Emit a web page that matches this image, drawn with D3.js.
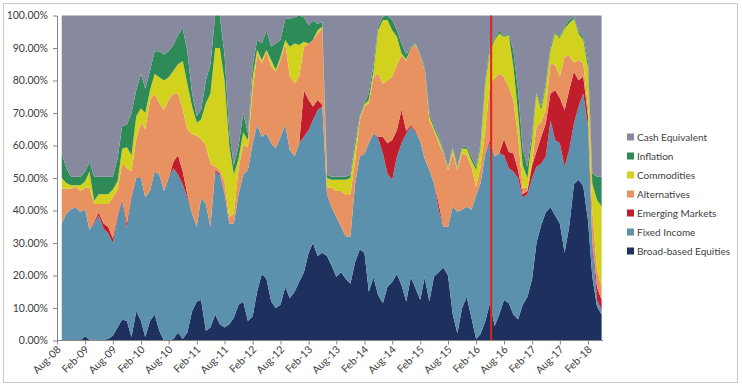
<!DOCTYPE html>
<html>
<head>
<meta charset="utf-8">
<script src="https://cdn.jsdelivr.net/npm/d3@7"></script>
<style>
  body { margin: 0; background: #fff; }
  svg { display: block; font-family: Lato, "Liberation Sans", sans-serif; }
</style>
</head>
<body>
<svg id="chart"></svg>
<script>
// Monthly allocation weights (%), Sep-08 .. May-18
var firstMonth = new Date(2008, 8, 1);

var equities = [0,0,0,0,0,1.3,0.2,0.3,0,0.2, 0.5,1.5,4,6.5,6,1,9,6,1,6,
  8,3,0,0,0.5,2.5,0.5,2.5,9,12, 12.5,3,4,8,5,4,5,7,11,12,
  6,7.5,15,20.5,19,12,10,11,16.5,13, 15,18,21,27,30,26,27,26,23,19.6,
  21,19,17.5,24,28,27,15,19.5,14,11.5, 16.5,18,20.5,17,12,19.5,16,12.5,19.5,12,
  19.6,21,22.5,20,8,2.2,10,13.5,7,0.5, 2,6,11.5,4.5,8,12.5,11.5,8,6.5,11,
  13.5,19,30,35.5,39.5,41,38.5,36,27,35, 48,49.5,47.5,37,19.6,10.4,8];

var fixedIncome = [36,39,40.5,41,39.5,39.2,33.8,35.7,38.5,34.3, 32.5,28.5,34,36.5,28.5,43,41,44,43,40,
  44,48,46,50,52.5,48.5,47.5,41.5,30,23, 31.5,39,31,44,46,41,31,29,34,39,
  46.5,53.2,51.3,42.2,44.7,48.7,49.1,51.7,49.8,45.6, 41.6,42.7,41.7,37.8,37.8,44.9,45,19,18,18.4,
  14,13,14.5,24,28.6,30.5,45.7,44.3,48.2,46.1, 34.9,31.4,36.1,43.7,51.7,46.3,48,48.7,36.5,40.5,
  28.8,19.2,12.5,15,33.2,37.4,30.2,27.7,33.2,44.3, 46.4,51.6,49.2,52.1,49.6,44.5,41.5,44,43.4,33,
  31.5,31,23.5,19,17.1,26.8,23.2,24.7,26.5,23.6, 18.8,22.5,28.5,29,10.3,2.1,1.4];

var emerging = [0,0,0,0,0,0,0,0.5,1,1.5, 2,1.5,0.5,0.5,1.5,0.5,0,0,0,0,
  0,0,0,0,2,6,4,1,0,0, 0,0,0,0.5,0.5,0.5,0,0,0,0,
  0,0,0,0,0,0,0,0,0,0, 0,0,14.3,9.2,4.2,3.1,0.5,0,0,0,
  0,0,0,0,0,0,0,0,0.5,5.1, 9.3,12.3,8.2,10.3,0.8,0.5,0.5,0,0,0,
  0,2,0,0,0,0,0,0,0,0, 0,0,1,0,0,5,5,5.6,2.6,1,
  1,4,4.6,8.2,10.2,8.2,15.3,13.9,17.4,18.4, 15.9,8.1,5.2,3,1,4,3.1];

var alternatives = [10.8,7.8,6.3,6.3,6.5,6.5,13,5.5,2.5,6, 7,12.5,8,11,17,7.5,12,17,21,28,
  24,22,25,24,21,19,19,20,24.5,28, 18,18,19.5,1,1,3.5,2,3,8,9,
  7.1,16.3,21.7,22.6,25.2,23.6,23.6,23.6,25.1,22.6, 22.5,20.5,13.4,17.4,20.5,20.5,23.5,2,6,8,
  11,13,13,7,11.2,14.5,12.3,17.2,19.5,16.3, 19.3,19.5,20,16.9,21.5,23.7,26.5,26.3,27.2,15.3,
  16.3,18.5,22.6,17.5,16.4,12.9,17.4,15.9,13.3,2.5, 5.1,7.2,17.4,24,24.6,19,20,16.4,10.2,2,
  1,1,7.7,4.6,4.1,9.3,7.8,6.6,16.4,10.8, 2.8,6.2,4.1,3,9.3,5.2,4];

var commodities = [3.2,1.7,1,0.5,1.8,2,5,1,3,3, 3,2.5,2.5,4.5,6.5,5,7,4.5,5,3,
  6,8,9,7,7,9,15,14,8.5,4, 6,13,21.5,36.5,37.5,31,22,12,3,4,
  2.1,4,1.5,1,0.5,2,0.6,1,1.1,9.2, 12.3,9.7,1.5,0,0,1,0.6,3,2.5,3.5,
  3.5,4.5,5,4.5,0.7,0.7,1,2,13.3,19.6, 18.6,14.3,8.7,0.5,0.5,0,0.2,0.1,0.3,1.2,
  0.6,1.3,0.4,0.5,1.4,0.5,1.5,1.9,2,5.2, 6.1,14.3,9.8,11.9,12.3,12.3,16,10.3,7.3,7,
  3,7,10.2,3.6,7.2,4.1,9.7,11.8,8.7,9.8, 13.5,8.2,7.2,12,8.2,21.5,24.7];

var inflation = [7.6,4.5,2.6,2.6,2.6,3,3,7.4,5.4,5.4, 5.4,3.9,7,7,7,13,8,10.5,7.5,6,
  7,8,8,8,8,9,10,10,4,2, 3,7,9,10,10,8,4,3,4,6,
  2.1,3.5,3,5.2,6.1,4.1,8.1,5.2,6.5,8.6, 8.1,9.1,7.6,5.6,6,2,1.4,1,0.9,0.9,
  0.9,0.9,1,1.5,0.5,0.3,2,2,1.1,1.1, 1.4,3.1,2,3,1.5,0.4,0.3,0.2,0.8,1,
  1,0.7,0.6,0.5,0.6,0.5,0.5,0.6,1.1,1, 1.1,1,1.5,0.5,1,0.2,0.5,5.1,7,5,
  3.5,2,0.5,1.1,1,1,0.5,0.5,0.6,1, 0.6,0.5,1,2,3,7.2,9.2];

var cash = [42.4,47,49.6,49.6,49.6,48,45,49.6,49.6,49.6, 49.6,49.6,44,34,33.5,30,23,18,22.5,17,
  11,11,12,11,9,6,4,11,24,31, 29,20,15,0,0,12,36,46,40,30,
  36.2,15.5,7.5,8.5,4.5,9.6,8.6,7.5,1,1, 0.5,0,0.5,3,1.5,2.5,2,49,49.6,49.6,
  49.6,49.6,49,39,31,27,24,15,3.4,0.3, 0,1.4,4.5,8.6,12,9.6,8.5,12.2,15.7,30,
  33.7,37.3,41.4,46.5,40.4,46.5,40.4,40.4,43.4,46.5, 39.3,19.9,9.6,7,4.5,6.5,5.5,10.6,23,41,
  46.5,36,23.5,28,20.9,9.6,5,6.5,3.4,1.4, 0.4,5,6.5,14,48.6,49.6,49.6];

var seriesNames = ["Broad-based Equities", "Fixed Income", "Emerging Markets",
  "Alternatives", "Commodities", "Inflation", "Cash Equivalent"];
var seriesValues = [equities, fixedIncome, emerging, alternatives, commodities, inflation, cash];
var seriesColors = ["#1e305e", "#5b91ac", "#c01e2d", "#e89262", "#d2d21e", "#2e8b57", "#878a9e"];

var yTicks = [0, 10, 20, 30, 40, 50, 60, 70, 80, 90, 100];
var xTickLabels = ["Aug-08","Feb-09","Aug-09","Feb-10","Aug-10","Feb-11","Aug-11","Feb-12",
  "Aug-12","Feb-13","Aug-13","Feb-14","Aug-14","Feb-15","Aug-15","Feb-16","Aug-16",
  "Feb-17","Aug-17","Feb-18"];
var markerDate = new Date(2016, 4, 9);   // red vertical line

var W = 742, H = 388;
var svg = d3.select("#chart").attr("width", W).attr("height", H);

svg.append("rect").attr("x", 3.5).attr("y", 3.5).attr("width", 734).attr("height", 379)
  .attr("fill", "#fff").attr("stroke", "#c8c8c8");

// build table for d3.stack
var rows = equities.map(function(d, i) {
  var r = { date: d3.timeMonth.offset(firstMonth, i) };
  seriesNames.forEach(function(n, k) { r[n] = seriesValues[k][i]; });
  return r;
});

var parseTick = d3.timeParse("%b-%y");
var tickDates = xTickLabels.map(parseTick);

var x = d3.scaleTime()
  .domain([tickDates[0], tickDates[tickDates.length - 1]])
  .range([57, 588]);
var y = d3.scaleLinear().domain([0, 100]).range([340.5, 15.5]);

var stacked = d3.stack().keys(seriesNames)(rows);

var area = d3.area()
  .x(function(d) { return x(d.data.date); })
  .y0(function(d) { return y(d[0]); })
  .y1(function(d) { return y(d[1]); });

svg.append("g").selectAll("path")
  .data(stacked)
  .enter().append("path")
    .attr("fill", function(d, i) { return seriesColors[i]; })
    .attr("d", area);

// red marker line
svg.append("line")
  .attr("x1", x(markerDate)).attr("x2", x(markerDate))
  .attr("y1", y(100)).attr("y2", y(0))
  .attr("stroke", "#e3211f").attr("stroke-width", 2);

// y axis
var yAxis = svg.append("g")
  .attr("transform", "translate(57,0)")
  .call(d3.axisLeft(y).tickValues(yTicks).tickSize(4).tickSizeOuter(0)
    .tickFormat(function(d) { return d.toFixed(2) + "%"; }));
yAxis.selectAll("path, line").attr("stroke", "#868686");
yAxis.selectAll("text").attr("fill", "#404040").attr("font-size", "10.5px")
  .attr("x", -9).attr("font-family", "Lato, sans-serif");

// x axis
var xAxis = svg.append("g")
  .attr("transform", "translate(0,340.5)")
  .call(d3.axisBottom(x).tickValues(tickDates).tickSize(4).tickSizeOuter(0)
    .tickFormat(d3.timeFormat("%b-%y")));
xAxis.select(".domain").attr("d", "M57,0H603");
xAxis.selectAll("path, line").attr("stroke", "#868686");
xAxis.selectAll("text")
  .attr("fill", "#404040").attr("font-size", "10.5px").attr("font-family", "Lato, sans-serif")
  .attr("text-anchor", "end")
  .attr("transform", "rotate(-45)")
  .attr("x", -4).attr("y", 6).attr("dy", "0.35em");

// legend, top entry is the top of the stack
var legendNames = seriesNames.slice().reverse();
var legendColors = seriesColors.slice().reverse();
var legend = svg.append("g").selectAll("g")
  .data(legendNames)
  .enter().append("g")
    .attr("transform", function(d, i) { return "translate(627," + (137 + i * 19) + ")"; });
legend.append("rect")
  .attr("x", 0).attr("y", -3.5).attr("width", 7).attr("height", 7)
  .attr("fill", function(d, i) { return legendColors[i]; });
legend.append("text")
  .attr("x", 10).attr("dy", "0.35em")
  .attr("font-size", "10px").attr("fill", "#404040")
  .text(function(d) { return d; });
</script>
</body>
</html>
